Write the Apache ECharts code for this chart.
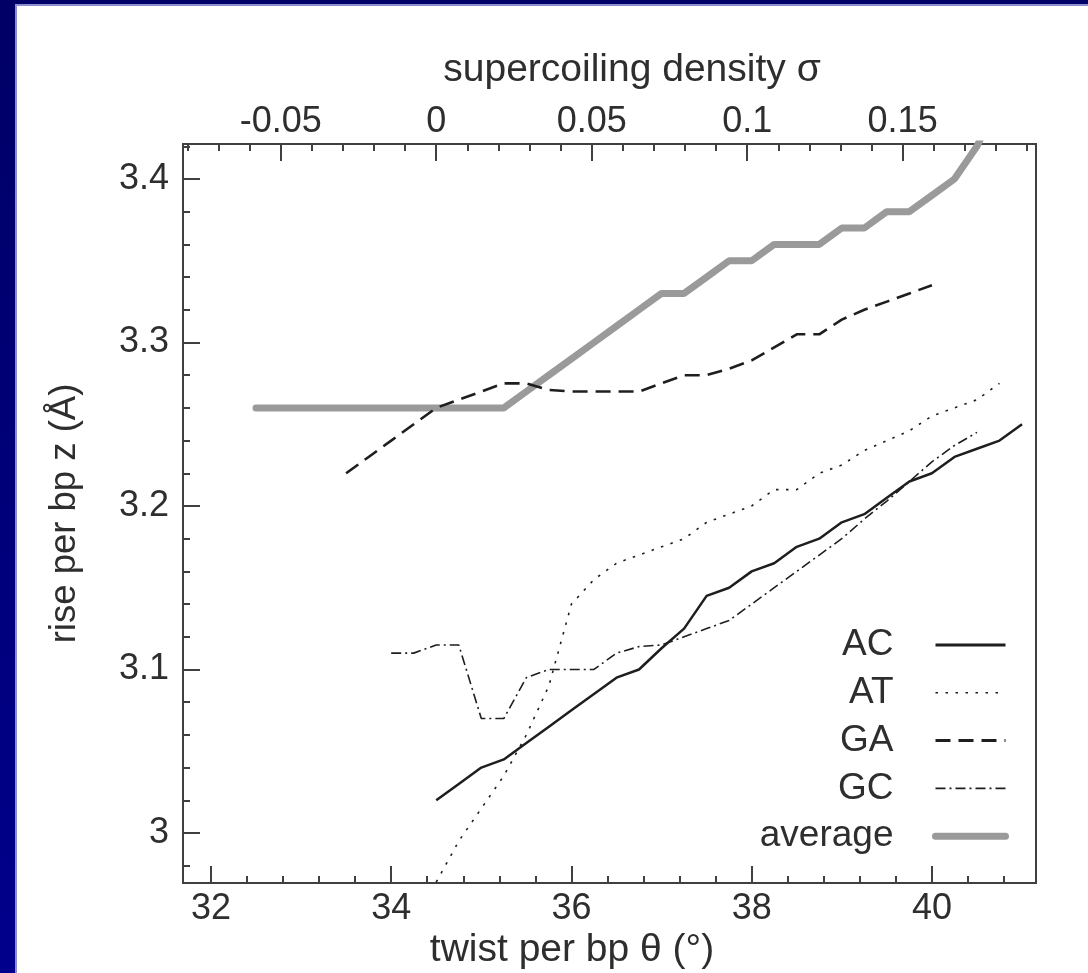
<!DOCTYPE html>
<html>
<head>
<meta charset="utf-8">
<script src="https://cdn.jsdelivr.net/npm/echarts@6/dist/echarts.min.js"></script>
<style>
html,body{margin:0;padding:0;width:1088px;height:973px;overflow:hidden;background:#00006c;}
#bg{position:absolute;left:0;top:0;width:1088px;height:973px;background:linear-gradient(#000066,#00008c);}
#panel{position:absolute;left:15px;top:4px;width:1073px;height:969px;background:#fff;border-left:2px solid #8c8cd0;border-top:2px solid #8c8cd0;box-sizing:border-box;}
#chart{position:absolute;left:0;top:0;width:1088px;height:973px;}
</style>
</head>
<body>
<div id="bg"></div>
<div id="panel"></div>
<div id="chart"></div>
<script>
// ---- data ----
const seriesNames = ['AC', 'AT', 'GA', 'GC', 'average'];

const acTheta = [34.5,34.75,35,35.25,35.5,35.75,36,36.25,36.5,36.75,37,37.25,37.5,37.75,38,38.25,38.5,38.75,39,39.25,39.5,39.75,40,40.25,40.5,40.75,41];
const acZ     = [3.02,3.03,3.04,3.045,3.055,3.065,3.075,3.085,3.095,3.10,3.113,3.125,3.145,3.15,3.16,3.165,3.175,3.18,3.19,3.195,3.205,3.215,3.22,3.23,3.235,3.24,3.25];

const atTheta = [34.5,34.75,35,35.25,35.5,35.75,36,36.25,36.5,36.75,37,37.25,37.5,37.75,38,38.25,38.5,38.75,39,39.25,39.5,39.75,40,40.25,40.5,40.75];
const atZ     = [2.97,2.995,3.015,3.035,3.06,3.09,3.14,3.155,3.165,3.17,3.175,3.18,3.19,3.195,3.20,3.21,3.21,3.22,3.225,3.234,3.24,3.246,3.255,3.26,3.265,3.275];

const gaTheta = [33.5,33.75,34,34.25,34.5,34.75,35,35.25,35.5,35.75,36,36.25,36.5,36.75,37,37.25,37.5,37.75,38,38.25,38.5,38.75,39,39.25,39.5,39.75,40];
const gaZ     = [3.22,3.23,3.24,3.25,3.26,3.265,3.27,3.275,3.275,3.271,3.27,3.27,3.27,3.27,3.275,3.28,3.28,3.284,3.289,3.297,3.305,3.305,3.314,3.32,3.325,3.33,3.335];

const gcTheta = [34,34.25,34.5,34.75,35,35.25,35.5,35.75,36,36.25,36.5,36.75,37,37.25,37.5,37.75,38,38.25,38.5,38.75,39,39.25,39.5,39.75,40,40.25,40.5];
const gcZ     = [3.11,3.11,3.115,3.115,3.07,3.07,3.095,3.10,3.10,3.10,3.11,3.114,3.115,3.12,3.125,3.13,3.14,3.15,3.16,3.17,3.18,3.192,3.203,3.215,3.227,3.237,3.245];

const avgTheta = [32.5,32.75,33,33.25,33.5,33.75,34,34.25,34.5,34.75,35,35.25,35.5,35.75,36,36.25,36.5,36.75,37,37.25,37.5,37.75,38,38.25,38.5,38.75,39,39.25,39.5,39.75,40,40.25,40.5,40.75];
const avgZ     = [3.26,3.26,3.26,3.26,3.26,3.26,3.26,3.26,3.26,3.26,3.26,3.26,3.27,3.28,3.29,3.30,3.31,3.32,3.33,3.33,3.34,3.35,3.35,3.36,3.36,3.36,3.37,3.37,3.38,3.38,3.39,3.40,3.42,3.45];

// tick labels
const thetaTicks = [32, 34, 36, 38, 40];
const sigmaTicks = [-0.05, 0, 0.05, 0.1, 0.15];
const zTicks = [3, 3.1, 3.2, 3.3, 3.4];

// axis extents
const thetaMin = 31.69, thetaMax = 41.155;
const theta0 = 34.5;            // sigma = theta/theta0 - 1
const zMin = 2.9694, zMax = 3.4214;

// ---- build ----
function pairs(xs, ys) { return xs.map((x, i) => [x, ys[i]]); }
function steps(a, b, d) { const out = []; for (let k = Math.round(a / d); k * d <= b + 1e-9; k++) { const v = +(k * d).toFixed(4); if (v >= a - 1e-9) out.push(v); } return out; }

const FONT = '"Liberation Sans", Arial, sans-serif';
const TXT = '#2e2e2e';
const AX = '#404040';
const INK = '#1e1e1e';

const sigmaMin = thetaMin / theta0 - 1, sigmaMax = thetaMax / theta0 - 1;

const baseAxis = {
  type: 'value',
  splitLine: { show: false },
  axisLine: { show: true, onZero: false, lineStyle: { color: AX, width: 2 } },
  nameMoveOverlap: false
};

const chart = echarts.init(document.getElementById('chart'), null, { renderer: 'canvas' });
chart.setOption({
  animation: false,
  backgroundColor: 'transparent',
  grid: { left: 183, right: 52, top: 144, bottom: 90, show: true, borderColor: AX, borderWidth: 2, outerBoundsMode: 'none' },
  xAxis: [
    Object.assign({}, baseAxis, {
      position: 'bottom', min: thetaMin, max: thetaMax,
      name: 'twist per bp θ (°)', nameLocation: 'middle', nameGap: 48,
      nameTextStyle: { fontFamily: FONT, fontSize: 39, color: TXT, padding: [0, 75, 0, 0] },
      axisTick: { show: true, inside: true, length: 17, customValues: thetaTicks, lineStyle: { color: AX, width: 2 } },
      axisLabel: { show: true, customValues: thetaTicks, margin: 8, fontFamily: FONT, fontSize: 36, color: TXT }
    }),
    Object.assign({}, baseAxis, {
      position: 'bottom', min: thetaMin, max: thetaMax,
      axisTick: { show: true, inside: true, length: 7, customValues: steps(thetaMin, thetaMax, 0.4), lineStyle: { color: AX, width: 2 } },
      axisLabel: { show: false }
    }),
    Object.assign({}, baseAxis, {
      position: 'top', min: sigmaMin, max: sigmaMax,
      name: 'supercoiling density σ', nameLocation: 'middle', nameGap: 54,
      nameTextStyle: { fontFamily: FONT, fontSize: 39, color: TXT, padding: [0, 0, 0, 45] },
      axisTick: { show: true, inside: true, length: 17, customValues: sigmaTicks, lineStyle: { color: AX, width: 2 } },
      axisLabel: { show: true, customValues: sigmaTicks, margin: 4, fontFamily: FONT, fontSize: 36, color: TXT }
    }),
    Object.assign({}, baseAxis, {
      position: 'top', min: sigmaMin, max: sigmaMax,
      axisTick: { show: true, inside: true, length: 7, customValues: steps(sigmaMin, sigmaMax, 0.01), lineStyle: { color: AX, width: 2 } },
      axisLabel: { show: false }
    })
  ],
  yAxis: [
    Object.assign({}, baseAxis, {
      position: 'left', min: zMin, max: zMax,
      name: 'rise per bp z (Å)', nameLocation: 'middle', nameGap: 100,
      nameTextStyle: { fontFamily: FONT, fontSize: 36.5, color: TXT },
      axisTick: { show: true, inside: true, length: 17, customValues: zTicks, lineStyle: { color: AX, width: 2 } },
      axisLabel: { show: true, customValues: zTicks, margin: 14, fontFamily: FONT, fontSize: 36, color: TXT }
    }),
    Object.assign({}, baseAxis, {
      position: 'left', min: zMin, max: zMax,
      axisTick: { show: true, inside: true, length: 7, customValues: steps(zMin, zMax, 0.02), lineStyle: { color: AX, width: 2 } },
      axisLabel: { show: false }
    })
  ],
  legend: {
    data: [
      { name: 'AC', lineStyle: { width: 3 } },
      { name: 'AT', lineStyle: { width: 1.6 } },
      { name: 'GA', lineStyle: { width: 3 } },
      { name: 'GC', lineStyle: { width: 1.6 } },
      { name: 'average', lineStyle: { width: 7, cap: 'round' } }
    ],
    orient: 'vertical', right: 74, top: 620, align: 'right',
    itemWidth: 70, itemHeight: 14, itemGap: 7.8,
    selectedMode: false,
    itemStyle: { opacity: 0 },
    textStyle: { fontFamily: FONT, fontSize: 37, color: TXT, lineHeight: 40, padding: [0, 37, 0, 0] }
  },
  series: [
    { name: 'average', type: 'line', data: pairs(avgTheta, avgZ), symbol: 'none', silent: true, z: 1,
      itemStyle: { color: '#9a9a9a' },
      lineStyle: { color: '#9a9a9a', width: 7, cap: 'round' } },
    { name: 'AC', type: 'line', data: pairs(acTheta, acZ), symbol: 'none', silent: true, z: 3,
      itemStyle: { color: INK }, lineStyle: { color: INK, width: 2.5 } },
    { name: 'AT', type: 'line', data: pairs(atTheta, atZ), symbol: 'none', silent: true, z: 3,
      itemStyle: { color: INK }, lineStyle: { color: INK, width: 1.6, type: [2.5, 7.5] } },
    { name: 'GA', type: 'line', data: pairs(gaTheta, gaZ), symbol: 'none', silent: true, z: 3,
      itemStyle: { color: INK }, lineStyle: { color: INK, width: 2.6, type: [15, 8] } },
    { name: 'GC', type: 'line', data: pairs(gcTheta, gcZ), symbol: 'none', silent: true, z: 3,
      itemStyle: { color: INK }, lineStyle: { color: INK, width: 1.6, type: [10, 4, 2, 4] } }
  ]
});
</script>
</body>
</html>
